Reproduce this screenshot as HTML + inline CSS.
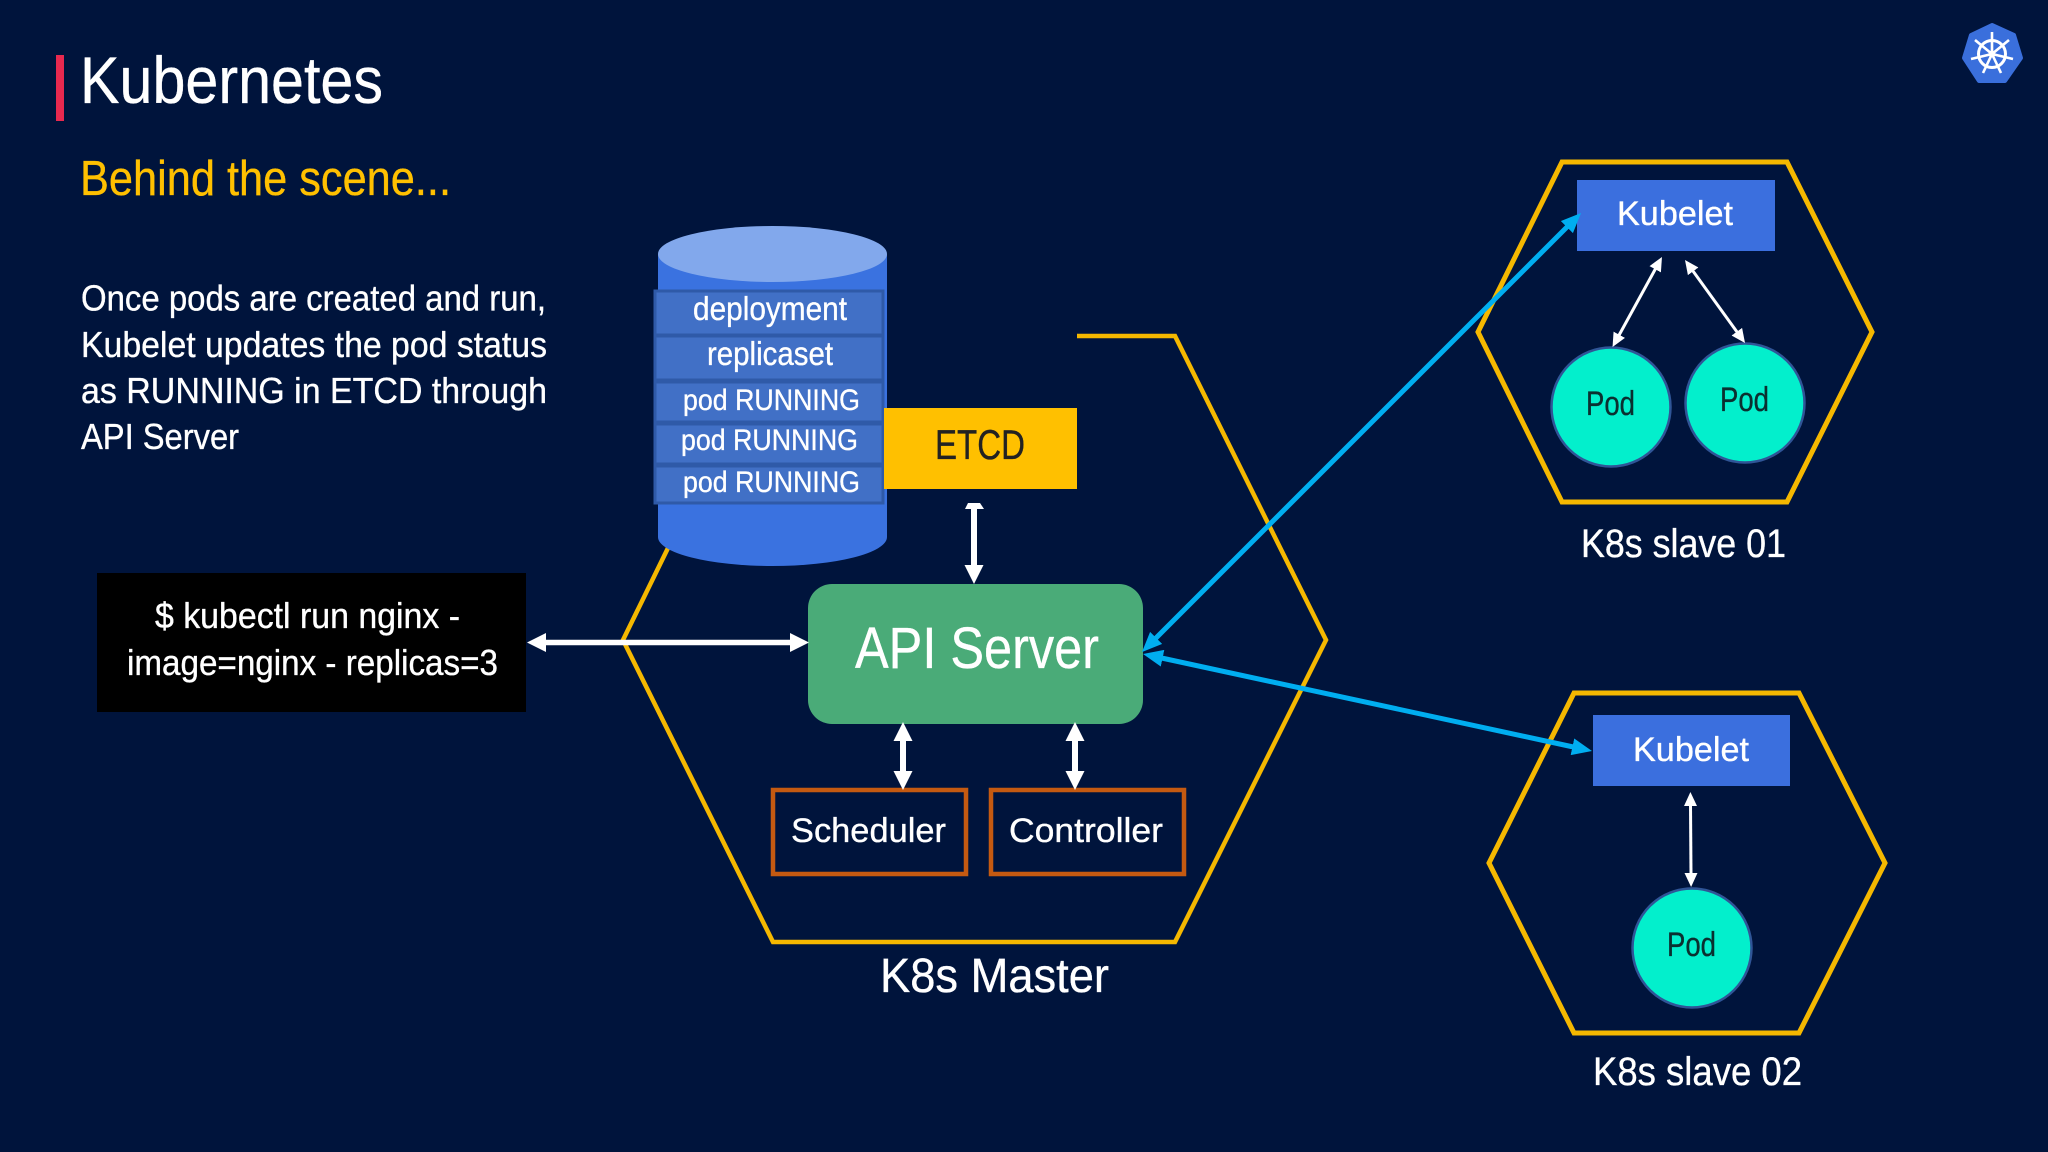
<!DOCTYPE html>
<html>
<head>
<meta charset="utf-8">
<style>
html,body{margin:0;padding:0;background:#00143c;width:2048px;height:1152px;overflow:hidden}
svg{display:block}
text{font-family:"Liberation Sans",sans-serif;fill:#fff;stroke:#fff;stroke-width:.35}
</style>
</head>
<body>
<svg width="2048" height="1152" viewBox="0 0 2048 1152" xmlns="http://www.w3.org/2000/svg">
<defs>
<marker id="wb" markerUnits="userSpaceOnUse" markerWidth="19" markerHeight="19" viewBox="0 0 19 19" refX="1" refY="9.5" orient="auto-start-reverse"><path d="M0,0L19,9.5L0,19Z" fill="#fff"/></marker>
<marker id="ws" markerUnits="userSpaceOnUse" markerWidth="14" markerHeight="13" viewBox="0 0 14 13" refX="1" refY="6.5" orient="auto-start-reverse"><path d="M0,0L14,6.5L0,13Z" fill="#fff"/></marker>
<marker id="bl" markerUnits="userSpaceOnUse" markerWidth="20" markerHeight="17" viewBox="0 0 20 17" refX="1" refY="8.5" orient="auto-start-reverse"><path d="M0,0L20,8.5L0,17Z" fill="#00aef0"/></marker>
</defs>
<rect width="2048" height="1152" fill="#00143c"/>

<!-- Title -->
<rect x="56" y="55" width="8" height="66" fill="#e8294f"/>
<text x="80" y="103" font-size="66" textLength="303" lengthAdjust="spacingAndGlyphs">Kubernetes</text>
<text x="80" y="195" font-size="49" textLength="371" lengthAdjust="spacingAndGlyphs" style="fill:#ffc000;stroke:#ffc000">Behind the scene...</text>
<text x="81" y="310.5" font-size="36" textLength="465" lengthAdjust="spacingAndGlyphs">Once pods are created and run,</text>
<text x="81" y="357" font-size="36" textLength="466" lengthAdjust="spacingAndGlyphs">Kubelet updates the pod status</text>
<text x="81" y="403" font-size="36" textLength="466" lengthAdjust="spacingAndGlyphs">as RUNNING in ETCD through</text>
<text x="81" y="449" font-size="36" textLength="158" lengthAdjust="spacingAndGlyphs">API Server</text>

<!-- Logo -->
<polygon points="1992,25 2014,35 2021,58 2005,81 1979,81 1964,58 1971,35" fill="#3a6fdc" stroke="#3a6fdc" stroke-width="4" stroke-linejoin="round"/>
<g stroke="#fff" fill="none" stroke-width="2.6">
<circle cx="1992" cy="54" r="13.5" stroke-width="3"/>
<path d="M1992,54V32M1992,54L2009,40M1992,54L2013,59M1992,54L2001,73M1992,54L1983,73M1992,54L1971,59M1992,54L1975,40"/>
</g>
<circle cx="1992" cy="54" r="3.5" fill="#fff"/>

<!-- Master hexagon -->
<polyline points="1077,336 1175,336 1326,640 1175,942 773,942 623,640 668,548" fill="none" stroke="#f5b800" stroke-width="4.5"/>

<!-- Cylinder -->
<path d="M658,254V537A114.5,29 0 0 0 887,537V254Z" fill="#3a72e0"/>
<ellipse cx="772.5" cy="254" rx="114.5" ry="28" fill="#82a8ec"/>
<g fill="#4170c6" stroke="#2f5aa8" stroke-width="3">
<rect x="655" y="291" width="228" height="44"/>
<rect x="655" y="336" width="228" height="44"/>
<rect x="655" y="382" width="228" height="40"/>
<rect x="655" y="424" width="228" height="40"/>
<rect x="655" y="466" width="228" height="37"/>
</g>
<text x="693" y="320" font-size="33" textLength="154" lengthAdjust="spacingAndGlyphs">deployment</text>
<text x="707" y="365" font-size="33" textLength="126" lengthAdjust="spacingAndGlyphs">replicaset</text>
<text x="683" y="410" font-size="30" textLength="177" lengthAdjust="spacingAndGlyphs">pod RUNNING</text>
<text x="681" y="450" font-size="30" textLength="177" lengthAdjust="spacingAndGlyphs">pod RUNNING</text>
<text x="683" y="492" font-size="30" textLength="177" lengthAdjust="spacingAndGlyphs">pod RUNNING</text>

<!-- ETCD -->
<rect x="884" y="408" width="193" height="81" fill="#ffc000"/>
<text x="935" y="459" font-size="42" textLength="90" lengthAdjust="spacingAndGlyphs" style="fill:#222;stroke:#222">ETCD</text>

<!-- Command box -->
<rect x="97" y="573" width="429" height="139" fill="#000"/>
<text x="155" y="628" font-size="36" textLength="305" lengthAdjust="spacingAndGlyphs">$ kubectl run nginx -</text>
<text x="127" y="675" font-size="36" textLength="371" lengthAdjust="spacingAndGlyphs">image=nginx - replicas=3</text>

<!-- API Server -->
<rect x="808" y="584" width="335" height="140" rx="24" fill="#4aab78"/>
<text x="855" y="668" font-size="58" textLength="244" lengthAdjust="spacingAndGlyphs">API Server</text>

<!-- Scheduler / Controller -->
<rect x="773" y="790" width="193" height="84" fill="none" stroke="#c55a11" stroke-width="4.5"/>
<rect x="991" y="790" width="193" height="84" fill="none" stroke="#c55a11" stroke-width="4.5"/>
<text x="791" y="842" font-size="34" textLength="155" lengthAdjust="spacingAndGlyphs">Scheduler</text>
<text x="1009" y="842" font-size="34" textLength="154" lengthAdjust="spacingAndGlyphs">Controller</text>
<text x="880" y="992" font-size="48" textLength="229" lengthAdjust="spacingAndGlyphs">K8s Master</text>

<!-- White arrows master -->
<line x1="545" y1="642.5" x2="791" y2="642.5" stroke="#fff" stroke-width="5.5" marker-start="url(#wb)" marker-end="url(#wb)"/>
<line x1="903" y1="740" x2="903" y2="772" stroke="#fff" stroke-width="6" marker-start="url(#wb)" marker-end="url(#wb)"/>
<line x1="1075" y1="740" x2="1075" y2="772" stroke="#fff" stroke-width="6" marker-start="url(#wb)" marker-end="url(#wb)"/>
<line x1="974" y1="506" x2="974" y2="566" stroke="#fff" stroke-width="6" marker-end="url(#wb)"/>
<polygon points="968,503 980,503 984,509 965,509" fill="#fff"/>

<!-- Slave 01 -->
<polygon points="1562,162 1787,162 1872,332 1787,502 1562,502 1478,332" fill="none" stroke="#f5b800" stroke-width="5"/>
<rect x="1577" y="180" width="198" height="71" fill="#3b6fde"/>
<text x="1617" y="225" font-size="34" textLength="116" lengthAdjust="spacingAndGlyphs">Kubelet</text>
<circle cx="1611" cy="407" r="59.5" fill="#03efcc" stroke="#2f5597" stroke-width="2.5"/>
<circle cx="1745" cy="403" r="59.5" fill="#03efcc" stroke="#2f5597" stroke-width="2.5"/>
<text x="1586" y="415" font-size="34" textLength="49" lengthAdjust="spacingAndGlyphs" style="fill:#0b3030;stroke:#0b3030">Pod</text>
<text x="1720" y="411" font-size="34" textLength="49" lengthAdjust="spacingAndGlyphs" style="fill:#0b3030;stroke:#0b3030">Pod</text>
<line x1="1655.7" y1="268.4" x2="1618.8" y2="335.6" stroke="#fff" stroke-width="3" marker-start="url(#ws)" marker-end="url(#ws)"/>
<line x1="1692.6" y1="270.5" x2="1737.4" y2="332.5" stroke="#fff" stroke-width="3" marker-start="url(#ws)" marker-end="url(#ws)"/>
<text x="1581" y="557" font-size="40" textLength="205" lengthAdjust="spacingAndGlyphs">K8s slave 01</text>

<!-- Slave 02 -->
<polygon points="1574,693 1799,693 1885,863 1799,1033 1574,1033 1489,863" fill="none" stroke="#f5b800" stroke-width="5"/>
<rect x="1593" y="715" width="197" height="71" fill="#3b6fde"/>
<text x="1633" y="761" font-size="34" textLength="116" lengthAdjust="spacingAndGlyphs">Kubelet</text>
<circle cx="1692" cy="948" r="59.5" fill="#03efcc" stroke="#2f5597" stroke-width="2.5"/>
<text x="1667" y="956" font-size="34" textLength="49" lengthAdjust="spacingAndGlyphs" style="fill:#0b3030;stroke:#0b3030">Pod</text>
<line x1="1690.5" y1="805" x2="1691" y2="874" stroke="#fff" stroke-width="3" marker-start="url(#ws)" marker-end="url(#ws)"/>
<text x="1593" y="1085" font-size="40" textLength="209" lengthAdjust="spacingAndGlyphs">K8s slave 02</text>

<!-- Blue arrows -->
<line x1="1155.4" y1="638.6" x2="1567.6" y2="226.4" stroke="#00aef0" stroke-width="5" marker-start="url(#bl)" marker-end="url(#bl)"/>
<line x1="1161.6" y1="658" x2="1573.4" y2="747" stroke="#00aef0" stroke-width="5" marker-start="url(#bl)" marker-end="url(#bl)"/>
</svg>
</body>
</html>
